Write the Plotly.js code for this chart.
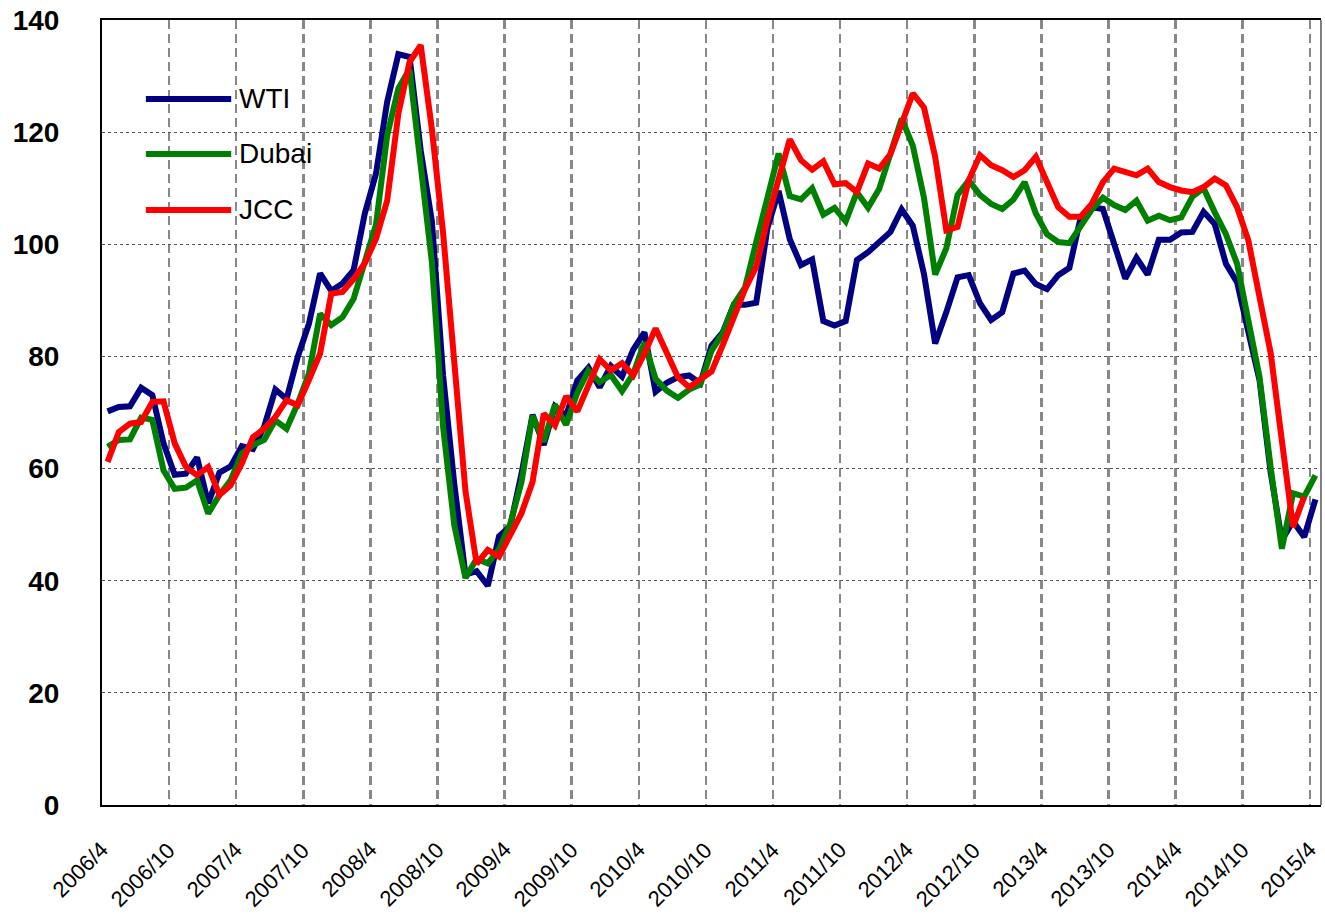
<!DOCTYPE html>
<html><head><meta charset="utf-8">
<script src="https://cdn.plot.ly/plotly-3.0.1.min.js"></script>
<style>html,body{margin:0;padding:0;background:#fff}</style>
</head><body><div id="chart" style="width:1325px;height:914px"></div>
<script>
const tickLabels = ["2006/4","2006/10","2007/4","2007/10","2008/4","2008/10","2009/4","2009/10","2010/4","2010/10","2011/4","2011/10","2012/4","2012/10","2013/4","2013/10","2014/4","2014/10","2015/4"];

const wti = [
 70.2, 71.0, 71.1, 74.4, 73.1, 64.5, 58.9, 59.1, 62.0,
 53.8, 59.3, 60.4, 64.0, 63.5, 67.5, 74.1, 72.4, 79.9, 85.8, 94.8, 91.7,
 93.0, 95.4, 105.5, 112.6, 125.4, 133.9, 133.4, 116.7, 104.1, 76.6, 57.3, 41.1,
 41.7, 39.1, 47.9, 49.7, 59.0, 69.6, 64.2, 71.1, 69.4, 75.7, 78.0, 74.5,
 78.3, 76.4, 81.2, 84.3, 73.7, 75.3, 76.3, 76.6, 75.2, 81.9, 84.3, 89.2,
 89.2, 89.6, 102.9, 109.5, 100.9, 96.3, 97.3, 86.3, 85.5, 86.3, 97.2, 98.6,
 100.3, 102.2, 106.2, 103.3, 94.7, 82.3, 87.9, 94.1, 94.5, 89.5, 86.5, 87.9,
 94.8, 95.3, 92.9, 92.0, 94.5, 95.8, 104.7, 106.6, 106.3, 100.5, 93.9, 97.6,
 94.6, 100.8, 100.8, 102.1, 102.2, 105.8, 103.6, 96.5, 93.2, 84.4, 75.8, 59.3,
 47.2, 50.6, 47.8, 54.5
];

const dubai = [
 63.9, 65.1, 65.2, 69.1, 68.7, 59.7, 56.4, 56.6, 57.9,
 52.0, 55.3, 57.9, 62.7, 64.2, 65.1, 68.6, 67.1, 71.6, 76.9, 87.6, 85.6,
 87.0, 90.3, 96.8, 103.5, 119.4, 127.8, 131.2, 113.2, 96.8, 67.4, 49.9, 40.5,
 43.9, 43.1, 45.6, 50.1, 57.5, 69.4, 64.8, 71.4, 67.8, 73.5, 77.5, 75.4,
 76.7, 73.8, 76.9, 82.5, 76.0, 73.9, 72.6, 74.1, 75.0, 81.0, 84.1, 89.3,
 92.3, 100.4, 108.7, 116.2, 108.6, 108.0, 110.0, 105.3, 106.5, 104.1, 109.3, 106.5,
 109.9, 115.8, 122.4, 117.6, 108.3, 94.6, 99.3, 108.8, 111.4, 108.8, 107.2, 106.3,
 108.0, 111.1, 105.5, 101.8, 100.4, 100.2, 103.3, 106.2, 108.3, 107.0, 106.1, 107.8,
 104.2, 105.1, 104.3, 104.8, 108.5, 110.0, 105.7, 101.8, 96.5, 86.0, 76.4, 60.2,
 45.7, 55.6, 55.0, 58.8
];

const jcc = [
 61.2, 66.5, 68.0, 68.3, 71.9, 72.0, 64.5, 60.3, 58.8,
 60.3, 55.3, 57.0, 60.9, 65.6, 67.1, 69.2, 72.2, 71.3, 75.8, 80.5, 91.2,
 91.5, 93.8, 96.6, 101.0, 107.8, 123.3, 132.5, 135.5, 120.5, 102.0, 80.0, 56.0,
 43.0, 45.5, 44.3, 48.1, 52.0, 57.6, 69.8, 67.7, 72.9, 70.2, 74.9, 79.5,
 77.5, 78.8, 76.6, 80.5, 85.0, 80.5, 76.3, 74.5, 75.8, 77.3, 82.0, 87.0,
 92.0, 96.0, 104.4, 111.6, 118.7, 115.0, 113.3, 114.8, 110.7, 110.9, 109.3, 114.4,
 113.5, 116.1, 121.5, 126.9, 124.4, 115.6, 102.5, 103.1, 111.4, 115.9, 114.1, 113.2,
 112.0, 113.2, 115.6, 111.4, 106.6, 104.9, 104.9, 107.2, 111.1, 113.5, 112.9, 112.3,
 113.5, 111.1, 110.2, 109.6, 109.3, 110.2, 111.7, 110.5, 106.6, 100.7, 90.6, 80.6,
 65.0, 49.6, 55.0
];

const seriesNames = ["WTI", "Dubai", "JCC"];
const seriesColors = ["#000080", "#008000", "#FF0000"];

const months = [];
for (let y = 2006; y <= 2015; y++) {
  for (let m = 1; m <= 12; m++) {
    if ((y === 2006 && m < 4) || (y === 2015 && m > 4)) continue;
    months.push(y + "/" + m);
  }
}

const allSeries = [wti, dubai, jcc];
const traces = allSeries.map((vals, k) => ({
  type: "scatter",
  mode: "lines",
  name: seriesNames[k],
  x: months.slice(0, vals.length),
  y: vals,
  line: { color: seriesColors[k], width: 6 },
  showlegend: false,
  hoverinfo: "x+y+name"
}));

const FONT = "Liberation Sans, Arial, sans-serif";

// custom legend (long line samples as in the reference)
const legendY = [0.8994, 0.8293, 0.7580];
const shapes = [];
const annotations = [];
seriesNames.forEach((nm, k) => {
  shapes.push({ type: "line", xref: "paper", yref: "paper",
    x0: 0.036, x1: 0.106, y0: legendY[k], y1: legendY[k],
    line: { color: seriesColors[k], width: 6 } });
  annotations.push({ xref: "paper", yref: "paper", x: 0.1105, y: legendY[k],
    xanchor: "left", yanchor: "middle", text: nm, showarrow: false,
    font: { family: FONT, size: 28, color: "#000" } });
});
// x tick labels, rotated, ending at their month
tickLabels.forEach(lbl => {
  annotations.push({ xref: "x", yref: "paper", x: lbl, y: 0,
    xanchor: "right", yanchor: "top", textangle: -45, showarrow: false,
    xshift: 7, yshift: -31, borderpad: 0,
    text: lbl, font: { family: FONT, size: 22, color: "#000" } });
});
// right border (gray)
shapes.push({ type: "line", xref: "paper", yref: "paper", x0: 1, x1: 1, y0: 0, y1: 1,
  line: { color: "#808080", width: 2 } });

const layout = {
  width: 1325, height: 914,
  margin: { l: 102, r: 4, t: 20, b: 109, pad: 0 },
  paper_bgcolor: "#fff", plot_bgcolor: "#fff",
  font: { family: FONT, color: "#000" },
  xaxis: {
    type: "category",
    categoryorder: "array", categoryarray: months,
    range: [-0.5, months.length - 0.5],
    tickmode: "array", tickvals: tickLabels, ticktext: tickLabels,
    tickson: "boundaries",
    showticklabels: false,
    ticks: "",
    showgrid: true, gridcolor: "#888888", gridwidth: 2.5, griddash: "9px,5px",
    showline: true, linecolor: "#000", linewidth: 2, mirror: true,
    zeroline: false, fixedrange: true
  },
  yaxis: {
    range: [0, 140], tickmode: "linear", tick0: 0, dtick: 20,
    ticks: "", ticklabelstandoff: 35,
    tickfont: { size: 28, family: FONT, color: "#000", weight: "bold" },
    showgrid: true, gridcolor: "#555555", gridwidth: 1, griddash: "dot",
    showline: true, linecolor: "#000", linewidth: 2,
    zeroline: false, fixedrange: true
  },
  shapes: shapes,
  annotations: annotations,
  showlegend: false
};

Plotly.newPlot("chart", traces, layout, { displayModeBar: false, staticPlot: true });
</script>
</body></html>
